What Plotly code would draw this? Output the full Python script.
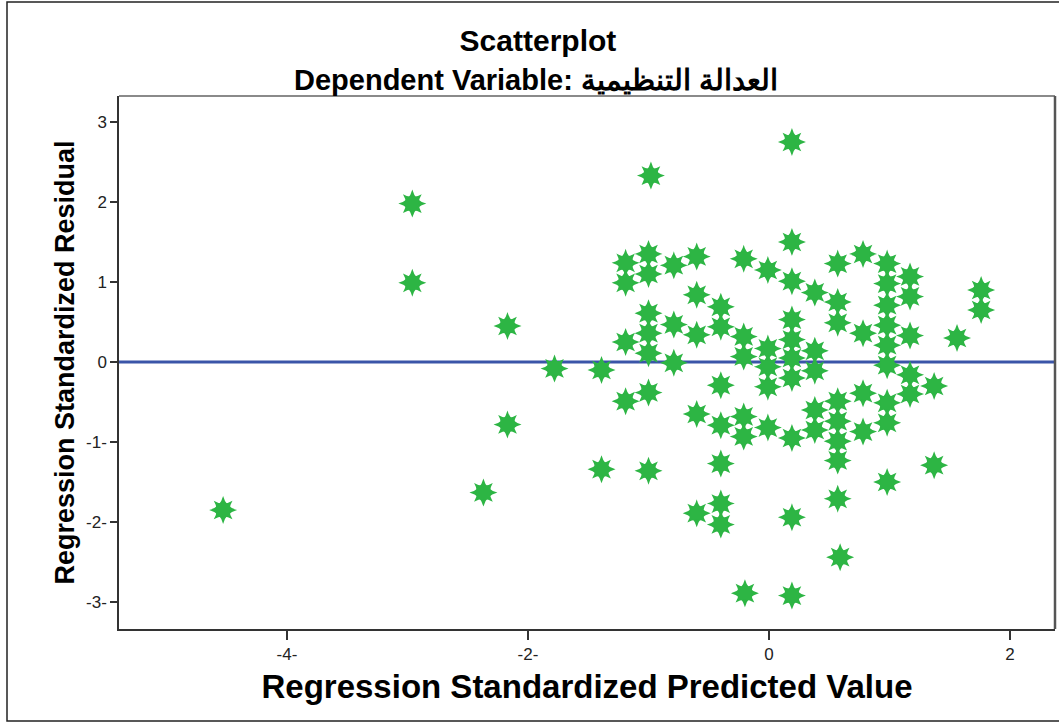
import plotly.graph_objects as go

# Regression standardized predicted value (x) and residual (y)
pred = [-4.53, -2.96, -2.96, -2.17, -2.17, -2.37, -1.78, -1.39, -1.39,
        -1.19, -1.19, -1.19, -1.19,
        -1.0, -1.0, -1.0, -1.0, -1.0, -1.0, -1.0, -0.98,
        -0.79, -0.79, -0.79,
        -0.6, -0.6, -0.6, -0.6, -0.6,
        -0.4, -0.4, -0.4, -0.4, -0.4, -0.4, -0.4,
        -0.21, -0.21, -0.21, -0.21, -0.21, -0.2,
        -0.01, -0.01, -0.01, -0.01, -0.01,
        0.19, 0.19, 0.19, 0.19, 0.19, 0.19, 0.19, 0.19, 0.19, 0.19,
        0.38, 0.38, 0.38, 0.38, 0.38,
        0.57, 0.57, 0.57, 0.57, 0.57, 0.57, 0.57, 0.57, 0.59,
        0.78, 0.78, 0.78, 0.78,
        0.98, 0.98, 0.98, 0.98, 0.98, 0.98, 0.98, 0.98, 0.98,
        1.17, 1.17, 1.17, 1.17, 1.17,
        1.37, 1.37, 1.56, 1.76, 1.76]
resid = [-1.85, 1.98, 0.99, 0.45, -0.78, -1.63, -0.08, -0.10, -1.34,
         1.24, 0.99, 0.25, -0.49,
         1.35, 1.10, 0.61, 0.36, 0.11, -0.38, -1.36, 2.33,
         1.21, 0.47, -0.01,
         1.32, 0.84, 0.34, -0.65, -1.89,
         0.69, 0.44, -0.29, -0.79, -1.27, -1.77, -2.03,
         1.29, 0.32, 0.07, -0.68, -0.93, -2.89,
         1.15, 0.17, -0.06, -0.31, -0.82,
         2.75, 1.50, 1.01, 0.53, 0.28, 0.05, -0.20, -0.95, -1.94, -2.92,
         0.87, 0.14, -0.11, -0.60, -0.85,
         1.23, 0.75, 0.49, -0.49, -0.74, -0.99, -1.23, -1.71, -2.44,
         1.35, 0.36, -0.39, -0.87,
         1.23, 0.98, 0.71, 0.46, 0.21, -0.04, -0.51, -0.76, -1.50,
         1.07, 0.82, 0.33, -0.16, -0.40,
         -0.30, -1.29, 0.30, 0.90, 0.65]

x_tickvals = [-4, -2, 0, 2]
x_ticktext = ["-4-", "-2-", "0", "2"]
y_tickvals = [3, 2, 1, 0, -1, -2, -3]
y_ticktext = ["3", "2", "1", "0", "-1-", "-2-", "-3-"]

GREEN = "#2DB544"

fig = go.Figure()
# 8-pointed star built from two 4-pointed stars
for sym, size in [("star-diamond", 20), ("star-square", 17)]:
    fig.add_trace(go.Scatter(
        x=pred, y=resid, mode="markers",
        marker=dict(symbol=sym, size=size, color=GREEN, line=dict(width=0)),
        showlegend=False, hoverinfo="x+y"))

fig.update_layout(
    width=1059, height=722,
    margin=dict(l=119, r=4, t=96, b=93),
    paper_bgcolor="white", plot_bgcolor="white",
    title=dict(text="<b>Scatterplot</b>", x=0.508, xref="container",
               xanchor="center", y=1 - 40 / 722, yanchor="middle",
               font=dict(family="Liberation Sans, Arial", size=30, color="black")),
    annotations=[dict(text="<b>Dependent Variable: العدالة التنظيمية</b>",
                      xref="paper", yref="paper",
                      x=(536 - 119) / 936, y=(629 - 80) / 533,
                      xanchor="center", yanchor="middle", showarrow=False,
                      font=dict(family="Liberation Sans, Arial", size=29, color="black"))],
    xaxis=dict(range=[-5.394, 2.373], tickvals=x_tickvals, ticktext=x_ticktext,
               showgrid=False, zeroline=False, showline=True, linecolor="#333",
               linewidth=1.5, ticks="outside", ticklen=9, tickwidth=1.5, tickcolor="#333",
               tickfont=dict(family="Liberation Sans, Arial", size=17, color="#222"),
               title=dict(text="<b>Regression Standardized Predicted Value</b>", standoff=12,
                          font=dict(family="Liberation Sans, Arial", size=33,
                                    color="black"))),
    yaxis=dict(range=[-3.3375, 3.325], tickvals=y_tickvals, ticktext=y_ticktext,
               showgrid=False, zeroline=False, showline=True, linecolor="#333",
               linewidth=1.5, ticks="outside", ticklen=7, tickwidth=1.5, tickcolor="#333",
               tickfont=dict(family="Liberation Sans, Arial", size=17, color="#222"),
               title=dict(text="<b>Regression Standardized Residual</b>", standoff=4,
                          font=dict(family="Liberation Sans, Arial", size=27, color="black"))),
    shapes=[
        # reference line at residual 0
        dict(type="line", xref="paper", yref="y", x0=0, x1=1, y0=0, y1=0,
             line=dict(color="#3A55A8", width=3), layer="below"),
        # top & right of plot frame
        dict(type="line", xref="paper", yref="paper", x0=0, x1=1, y0=1, y1=1,
             line=dict(color="#8A8A8A", width=2)),
        dict(type="line", xref="paper", yref="paper", x0=1, x1=1, y0=0, y1=1,
             line=dict(color="#555", width=2.5)),
        # outer border of the image
        dict(type="rect", xref="paper", yref="paper",
             x0=(7 - 119) / 936, x1=(1064 - 119) / 936,
             y0=(629 - 721) / 533, y1=(629 - 2) / 533,
             line=dict(color="#222", width=1.5)),
    ],
)

fig.write_html("out.html")
